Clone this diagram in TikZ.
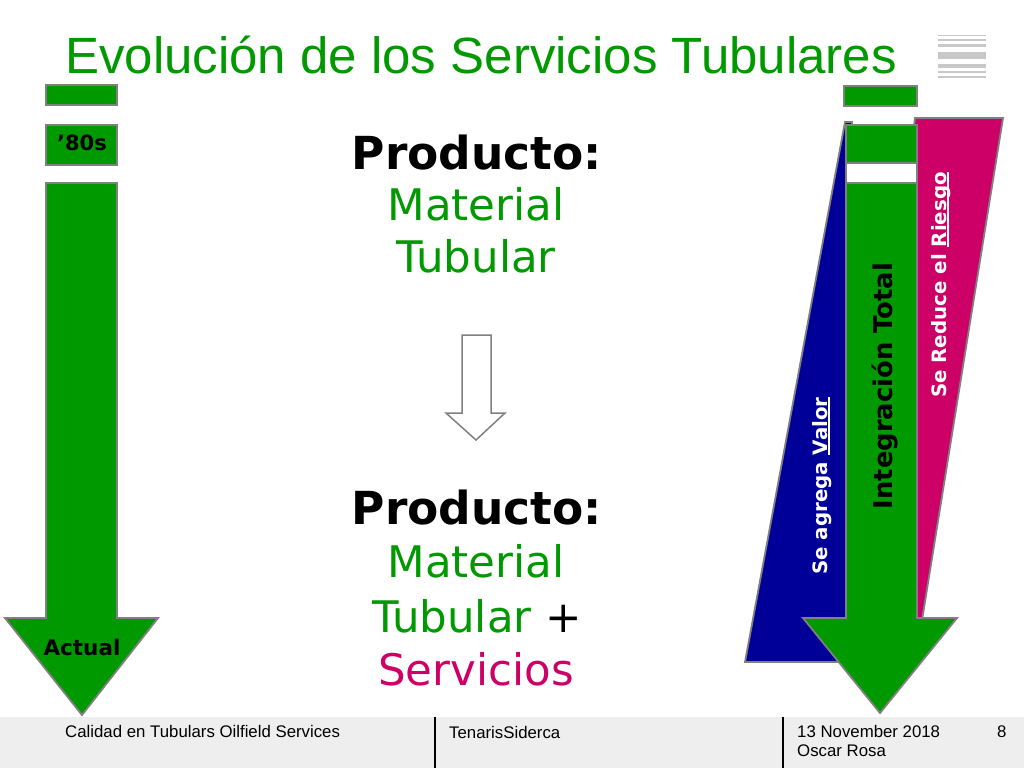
\documentclass[tikz,border=0pt]{standalone}
\usepackage{fontspec}
\setmainfont{DejaVu Sans}
\newfontfamily\arialf{Liberation Sans}
\definecolor{tgreen}{RGB}{0,153,0}
\definecolor{tmag}{RGB}{204,0,102}
\definecolor{tblue}{RGB}{0,0,153}
\definecolor{bgray}{RGB}{128,128,128}
\definecolor{lgray}{RGB}{200,200,200}
\definecolor{foot}{RGB}{238,238,238}
\newcommand\fsz[1]{\fontsize{#1}{#1}\selectfont}
\newcommand\ulx[1]{\setbox0\hbox{#1}\rlap{\rule[-2.6pt]{\wd0}{1.6pt}}\box0}
\tikzset{
  shp/.style={draw=bgray, line width=1.8pt, line join=miter},
  gshp/.style={shp, fill=tgreen},
  txt/.style={inner sep=0pt, anchor=base},
  big/.style={txt, font=\fsz{45.5}\bfseries},
  mid/.style={txt, font=\fsz{43.5}, text=tgreen},
  vlab/.style={txt, rotate=90, font=\fsz{19.8}\bfseries, text=white},
  foottxt/.style={inner sep=0pt, anchor=base west, font=\arialf\fsz{16.8}},
}
\begin{document}
\begin{tikzpicture}[x=1pt,y=-1pt]
\useasboundingbox (0,0) rectangle (1024,768);
\fill[white] (0,0) rectangle (1024,768);

% title
\node[inner sep=0pt, anchor=base west, font=\arialf\fsz{51}, text=tgreen] (title) at (65,73) {Evolución de los Servicios Tubulares};

% icon
\foreach \a/\b in {35/36.5, 39.5/41, 44/47.5, 52/59, 64/67.5, 71/72.5, 76/78}
  \fill[lgray] (938,\a) rectangle (986,\b);

% left arrow
\draw[gshp] (46,85) rectangle (117,105);
\draw[gshp] (46,125) rectangle (117,165);
\node[txt, font=\fsz{21}\bfseries] (eighties) at (82,150) {’80s};
\draw[gshp] (46,183) -- (117,183) -- (117,618) -- (158,618) -- (82,715) -- (5,618) -- (46,618) -- cycle;
\node[txt, font=\fsz{21.5}\bfseries] (actual) at (82,655) {Actual};

% centre text
\node[big] (p1) at (477,169) {Producto:};
\node[mid] (m1) at (476,220) {Material};
\node[mid] (t1) at (476,272) {Tubular};
\draw[draw=bgray, fill=white, line width=1.5pt, line join=miter] (462,335) -- (491,335) -- (491,413) -- (505,413) -- (476,440) -- (446,413) -- (462,413) -- cycle;
\node[big] (p2) at (477,524) {Producto:};
\node[mid] (m2) at (476,577) {Material};
\node[mid] (t2) at (477,632) {Tubular \textcolor{black}{+}};
\node[mid, text=tmag] (s2) at (476,685) {Servicios};

% right cluster
\draw[shp, fill=tblue] (845,122) -- (852,122) -- (852,662) -- (745,662) -- cycle;
\draw[shp, fill=tmag] (915,118) -- (1003,118) -- (918,645) -- (850,645) -- cycle;
\draw[gshp] (844,86) rectangle (917,106);
\draw[gshp] (846,125) rectangle (917,163);
\draw[draw=bgray, line width=1.2pt, fill=white] (846,163) rectangle (917,183);
\draw[gshp] (846,183) -- (917,183) -- (917,618) -- (957,618) -- (880,713) -- (803,618) -- (846,618) -- cycle;
\node[vlab] (valor) at (827,486) {Se agrega \ulx{Valor}};
\node[txt, rotate=90, font=\fsz{25.8}\bfseries] (integ) at (892,386) {Integración Total};
\node[vlab] (riesgo) at (946,285) {Se Reduce el \ulx{Riesgo}};

% footer
\fill[foot] (0,717) rectangle (1024,768);
\draw[line width=1.5pt] (435,717) -- (435,768);
\draw[line width=1.5pt] (783,717) -- (783,768);
\node[foottxt] (f1) at (65,737) {Calidad en Tubulars Oilfield Services};
\node[foottxt] (f2) at (449,738) {TenarisSiderca};
\node[foottxt] (f3) at (797,737) {13 November 2018};
\node[foottxt] (f4) at (797,756) {Oscar Rosa};
\node[foottxt] (f5) at (997,737) {8};
\end{tikzpicture}
\end{document}
